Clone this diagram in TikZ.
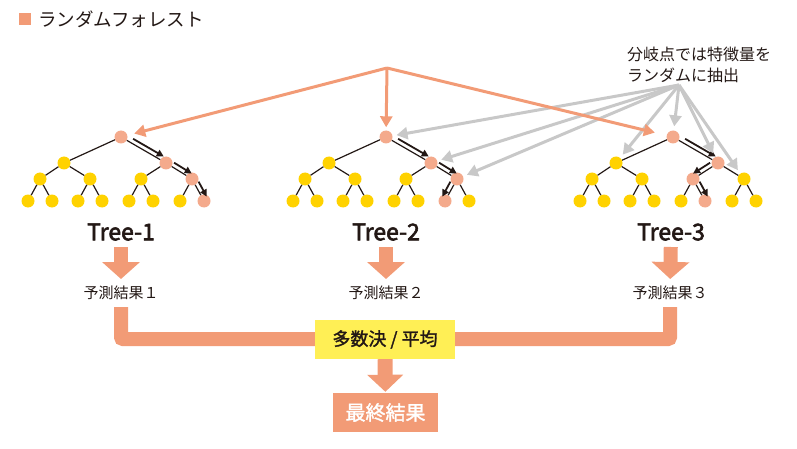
\documentclass[tikz,border=0pt]{standalone}
\usepackage{fontspec}
\setmainfont{Noto Sans CJK JP}
\newfontfamily\halfbold[FakeBold=1.6]{Noto Sans CJK JP}
\newfontfamily\treefont[FakeBold=2.6]{Noto Sans CJK JP}
\usepackage{tikz}
\usetikzlibrary{arrows.meta}
\usetikzlibrary{calc}

\definecolor{salmon}{RGB}{242,155,118}
\definecolor{nodepink}{RGB}{244,170,140}
\definecolor{gold}{RGB}{255,210,0}
\definecolor{lemon}{RGB}{255,239,85}
\definecolor{ash}{RGB}{200,200,200}
\definecolor{ink}{RGB}{35,24,21}

\begin{document}
\begin{tikzpicture}[x=1pt,y=-1pt,
  knot/.style={circle,fill=gold,minimum size=13pt,inner sep=0pt},
  hot/.style={fill=nodepink},
  branch/.style={ink,line width=1.2pt},
  walk/.style={ink,line width=1.8pt,-{Triangle[length=7pt,width=7pt]}},
  pick/.style={ash,line width=3pt,shorten >=4pt,-{Triangle[length=11pt,width=12pt]}},
  feed/.style={salmon,line width=3pt,-{Triangle[length=11pt,width=12pt]}},
  block/.style={salmon,line width=14pt,-{Triangle[length=17pt,width=37pt]}},
  label/.style={text=ink,inner sep=0pt},
  % nodes on the chosen path of each tree
  a0/.style=hot, a2/.style=hot, a6/.style=hot, a14/.style=hot,
  b0/.style=hot, b2/.style=hot, b6/.style=hot, b13/.style=hot,
  c0/.style=hot, c2/.style=hot, c5/.style=hot, c12/.style=hot]
\useasboundingbox (0,0) rectangle (797,449);

% legend
\node[fill=salmon,minimum size=12pt,inner sep=0pt] (mark) at (25,19) {};
\node[label,anchor=west,font=\fontsize{18.5}{22}\selectfont] (title) at (38,19) {ランダムフォレスト};

% draws the three trees
\foreach \t/\x in {a/121,b/386,c/673}{
  \node[knot,\t0/.try] (\t0) at (\x,137) {};
  \node[knot,\t1/.try] (\t1) at (\x-57,163) {};
  \node[knot,\t2/.try] (\t2) at (\x+45,163) {};
  \foreach \i/\dx in {3/-81,4/-31,5/20,6/71}
    \node[knot,\t\i/.try] (\t\i) at (\x+\dx,179) {};
  \foreach \i/\dx in {7/-93,8/-69,9/-43,10/-19,11/8,12/32,13/59,14/83}
    \node[knot,\t\i/.try] (\t\i) at (\x+\dx,201) {};
  \foreach \p/\q in {0/1,0/2,1/3,1/4,2/5,2/6,3/7,3/8,4/9,4/10,5/11,5/12,6/13,6/14}
    \draw[branch] (\t\p) -- (\t\q);
}

% walks down each tree
\foreach \p/\q/\s in {a0/a2/90,a2/a6/90,a6/a14/90,b0/b2/90,b2/b6/90,b6/b13/-90,c0/c2/90,c2/c5/-90,c5/c12/90}
  \draw[walk] ($($(\p)!0.22!(\q)$)!4.5pt!\s:(\q)$) -- ($($(\p)!0.9!(\q)$)!4.5pt!\s:(\q)$);

% random features at the splits
\node[label,anchor=west,align=left,font=\fontsize{16}{21}\selectfont] (note) at (627,64.5) {分岐点では特徴量を\\ランダムに抽出};
\coordinate (src) at (679,85);
\foreach \k in {b0,b2,b6,c1,c0,c2,c6}
  \draw[pick] (src) -- (\k);

% bootstrap samples to every tree
\coordinate (fork) at (387,68);
\draw[feed,shorten >=7pt] (fork) -- (a0);
\draw[feed,shorten >=3pt] (fork) -- (b0);
\draw[feed,shorten >=12pt] (fork) -- (c0);

% tree names and results
\foreach \n/\x in {1/121,2/386,3/671}{
  \node[label,font=\fontsize{23}{26}\selectfont\treefont] (t\n) at (\x,232) {Tree-\n};
}
\node[label,font=\fontsize{15}{18}\selectfont] (p1) at (121,293) {予測結果１};
\node[label,font=\fontsize{15}{18}\selectfont] (p2) at (386,293) {予測結果２};
\node[label,font=\fontsize{15}{18}\selectfont] (p3) at (670,293) {予測結果３};
\foreach \n in {1,2,3}
  \draw[block,shorten <=15pt,shorten >=14pt] (t\n.center) -- (p\n.center);

% collects the results
\draw[salmon,line width=14pt,rounded corners=2pt,shorten <=14pt,shorten >=14pt]
  (p1.center) -- ++(0,46) -| (p3.center);
\node[fill=lemon,minimum width=140pt,minimum height=39pt,text=ink,
  font=\fontsize{18}{22}\selectfont\halfbold] (vote) at (385,339.5) {多数決 / 平均};
\node[fill=salmon,minimum width=105pt,minimum height=39pt,text=white,
  font=\fontsize{20}{24}\selectfont\halfbold] (final) at (385.5,412.5) {最終結果};
\draw[salmon,line width=15pt,shorten >=1pt,-{Triangle[length=17pt,width=35pt]}] (vote) -- (final);
\end{tikzpicture}
\end{document}
